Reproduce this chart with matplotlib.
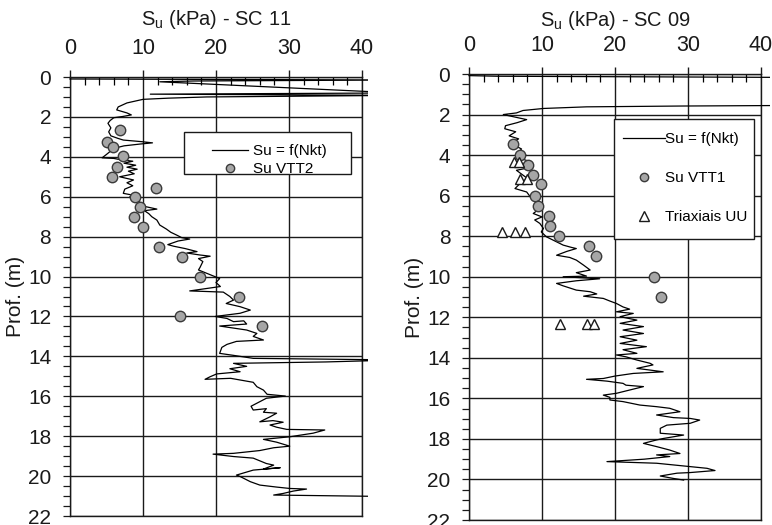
import matplotlib.pyplot as plt
from matplotlib.patches import Rectangle
from matplotlib.ticker import MultipleLocator

plt.rcParams['font.family'] = ['Liberation Sans', 'DejaVu Sans']
plt.rcParams['mathtext.fontset'] = 'custom'
plt.rcParams['mathtext.rm'] = 'Liberation Sans'

# SC 11 - Su = f(Nkt) (profundidade em m, Su em kPa); picos > 40 saem do grafico
prof_sc11 = [0.10, 0.15, 0.20, 0.24, 0.80, 0.86, 0.92, 1.00, 1.06, 1.12, 1.30, 1.50, 1.65, 1.80,
             1.90, 1.98, 2.04, 2.18, 2.32, 2.55, 2.75, 2.95, 3.08, 3.16, 3.24, 3.30, 3.36, 3.45,
             3.56, 3.70, 3.88, 4.05, 4.08, 4.15, 4.22, 4.32, 4.42, 4.52, 4.62, 4.72, 4.85, 5.00,
             5.16, 5.30, 5.45, 5.62, 5.83, 5.92, 6.00, 6.16, 6.33, 6.50, 6.62, 6.70, 6.85, 7.00,
             7.17, 7.42, 7.62, 7.78, 7.92, 8.05, 8.12, 8.22, 8.40, 8.48, 8.60, 8.75, 8.82, 8.92,
             8.98, 9.10, 9.25, 9.40, 9.55, 9.67, 9.82, 9.97, 10.10, 10.30, 10.50, 10.72, 10.78,
             11.00, 11.18, 11.35, 11.51, 11.68, 11.84, 12.00, 12.10, 12.26, 12.22, 12.38, 12.48,
             12.58, 12.68, 12.85, 13.00, 13.18, 13.25, 13.40, 13.55, 13.85, 13.95, 14.10, 14.18,
             14.28, 14.35, 14.50, 14.62, 14.77, 14.88, 15.02, 15.15, 15.10, 15.30, 15.52, 15.69,
             15.90, 15.99, 16.10, 16.35, 16.50, 16.69, 16.62, 16.80, 16.85, 17.03, 17.28, 17.22,
             17.30, 17.44, 17.55, 17.66, 17.69, 17.85, 18.03, 18.16, 18.30, 18.50, 18.58, 18.72,
             18.86, 18.90, 19.02, 19.10, 19.37, 19.45, 19.65, 19.58, 19.70, 19.95, 20.02, 20.28,
             20.45, 20.55, 20.62, 20.65, 20.75, 20.87, 20.95, 21.03, 21.08]
su_sc11 = [0.0, 45.0, 16.9, 12.3, 45.0, 11.0, 45.0, 18.7, 13.5, 10.0, 7.8, 6.6, 6.4, 7.8,
           8.4, 7.2, 6.0, 5.5, 5.2, 5.6, 5.3, 5.6, 6.6, 7.3, 9.8, 11.3, 9.6, 7.4,
           6.2, 5.6, 5.0, 4.4, 6.0, 7.0, 8.6, 7.4, 9.0, 7.8, 9.2, 8.0, 8.8, 6.8,
           8.7, 7.8, 8.6, 7.5, 7.3, 8.6, 8.2, 9.1, 9.8, 10.4, 11.9, 10.2, 10.8, 11.2,
           11.9, 12.3, 13.2, 13.8, 14.6, 15.3, 16.4, 14.8, 13.4, 14.2, 15.8, 17.4, 16.0, 17.8,
           19.2, 17.6, 18.2, 18.0, 17.8, 17.6, 18.6, 19.6, 20.5, 20.0, 20.6, 16.4, 21.0,
           21.9, 22.4, 21.4, 23.3, 24.7, 23.3, 19.9, 21.5, 22.4, 23.8, 24.2, 20.5,
           22.4, 24.2, 25.6, 25.1, 26.5, 22.8, 21.5, 20.8, 20.5, 22.4, 25.1, 45.0,
           35.0, 22.4, 24.2, 21.9, 23.3, 20.1, 19.2, 18.5, 22.0, 25.1, 25.6, 26.5,
           27.0, 29.5, 26.9, 25.6, 24.8, 25.1, 26.9, 26.5, 28.3, 27.4, 26.0, 27.8,
           29.2, 27.4, 28.3, 29.7, 34.9, 33.3, 30.1, 26.5, 28.3, 30.1, 27.9, 26.0,
           22.4, 19.6, 22.4, 25.1, 26.9, 27.9, 26.5, 28.8, 25.1, 22.8, 23.3, 24.7,
           26.0, 28.3, 30.1, 32.4, 30.6, 29.2, 27.9, 45.0, 45.0]

# SC 11 - Su VTT2
prof_vtt2 = [2.65, 3.25, 3.5, 3.95, 4.5, 5.0, 5.55, 6.0, 6.5, 7.0, 7.5, 8.5, 9.0, 10.0, 11.05, 12.0, 12.5]
su_vtt2 = [6.85, 5.0, 5.9, 7.3, 6.5, 5.7, 11.8, 8.9, 9.6, 8.7, 10.0, 12.2, 15.3, 17.8, 23.2, 15.1, 26.3]

# SC 09 - Su = f(Nkt)
prof_sc09 = [0.08, 0.11, 0.17, 1.55, 1.58, 1.62, 1.70, 1.80, 1.92, 2.00, 2.10, 2.25, 2.40, 2.55,
             2.70, 2.85, 3.05, 3.20, 3.40, 3.55, 3.70, 3.85, 4.00, 4.15, 4.30, 4.45, 4.60, 4.75,
             4.99, 5.15, 5.40, 5.65, 5.82, 6.06, 6.31, 6.50, 6.64, 6.88, 7.05, 7.20, 7.37, 7.62,
             7.79, 8.03, 8.28, 8.44, 8.55, 8.61, 8.75, 8.94, 9.05, 9.18, 9.43, 9.67, 9.80, 9.97,
             10.00, 10.10, 10.20, 10.33, 10.45, 10.66, 10.74, 10.85, 10.96, 11.07, 11.20, 11.32,
             11.49, 11.60, 11.73, 11.81, 11.97, 12.14, 12.30, 12.46, 12.63, 12.80, 12.96, 13.13,
             13.29, 13.45, 13.60, 13.78, 13.86, 13.95, 14.11, 14.27, 14.35, 14.52, 14.69, 14.77,
             14.90, 15.02, 15.06, 15.15, 15.26, 15.35, 15.42, 15.59, 15.75, 15.84, 15.95, 16.08,
             16.16, 16.33, 16.41, 16.49, 16.66, 16.82, 16.95, 16.99, 17.07, 17.23, 17.32, 17.48,
             17.72, 17.81, 17.98, 18.05, 18.22, 18.38, 18.55, 18.72, 18.79, 18.87, 19.00, 19.12,
             19.20, 19.37, 19.45, 19.56, 19.66, 19.69, 19.83, 19.95, 20.03]
su_sc09 = [0.0, 3.8, 45.0, 45.0, 29.0, 16.1, 10.2, 7.4, 6.5, 4.7, 6.0, 7.9, 6.6, 5.0,
           4.9, 6.4, 5.5, 6.8, 5.8, 6.4, 7.2, 6.8, 7.8, 6.9, 8.2, 7.3, 8.5, 6.5,
           7.4, 8.0, 7.0, 6.3, 7.9, 8.4, 9.3, 9.0, 9.7, 8.8, 10.0, 9.0, 9.7, 10.2,
           9.9, 10.6, 12.0, 12.9, 14.0, 14.7, 13.4, 12.0, 13.8, 14.7, 15.7, 16.6, 14.7, 16.1,
           12.9, 17.9, 14.7, 12.0, 12.9, 14.7, 16.6, 17.5, 15.7, 18.4, 19.3, 20.2,
           21.1, 22.0, 20.2, 22.5, 20.7, 23.0, 20.7, 23.9, 21.1, 23.9, 20.7, 23.0,
           20.7, 24.3, 21.1, 23.0, 20.2, 21.5, 23.0, 24.8, 25.2, 23.0, 26.6, 22.5,
           20.0, 18.4, 16.1, 18.9, 21.1, 21.5, 23.9, 22.0, 20.2, 18.4, 19.3, 19.3,
           21.1, 23.4, 25.7, 27.5, 28.9, 25.7, 28.0, 30.3, 31.6, 30.3, 27.1, 26.2,
           26.2, 29.4, 26.6, 25.7, 23.9, 25.7, 27.5, 28.9, 25.7, 27.5, 24.0, 18.9,
           25.7, 30.3, 32.6, 33.7, 30.3, 28.5, 26.2, 28.0, 29.4]

# SC 09 - Su VTT1
prof_vtt1 = [3.46, 4.0, 4.5, 5.0, 5.45, 6.0, 6.5, 7.0, 7.5, 8.0, 8.5, 9.0, 10.0, 11.0]
su_vtt1 = [6.0, 7.0, 8.1, 8.8, 9.9, 9.0, 9.5, 11.0, 11.1, 12.3, 16.5, 17.4, 25.3, 26.3]

# SC 09 - Triaxiais UU
prof_uu = [4.35, 4.35, 5.2, 5.2, 7.8, 7.8, 7.8, 12.33, 12.33, 12.33]
su_uu = [6.1, 6.9, 7.0, 8.0, 4.5, 6.3, 7.7, 12.5, 16.1, 17.1]


def style_axes(ax):
    ax.set_xlim(0, 40)
    ax.set_ylim(22, 0)
    ax.xaxis.tick_top()
    ax.set_xticks([0, 10, 20, 30, 40])
    ax.xaxis.set_minor_locator(MultipleLocator(2))
    ax.set_yticks(range(0, 23, 2))
    ax.yaxis.set_minor_locator(MultipleLocator(0.5))
    ax.tick_params(axis='x', which='major', direction='out', length=5, width=1,
                   pad=8, labelsize=15.5, colors='#1a1a1a')
    ax.tick_params(axis='x', which='minor', direction='in', length=6, width=0.9,
                   top=True, bottom=False)
    ax.tick_params(axis='y', which='both', direction='out', length=5, width=0.9,
                   pad=8.5, labelsize=15, colors='#1a1a1a')
    ax.grid(True, which='major', color='#1a1a1a', lw=1.0)
    ax.set_axisbelow(True)
    for s in ax.spines.values():
        s.set_linewidth(1.0)
        s.set_color('#1a1a1a')
    ax.set_ylabel('Prof. (m)', fontsize=15, color='#1a1a1a')


def clip_right(line, ax, xmax):
    # a curva passa um pouco alem do eixo da direita, como no original
    box = Rectangle((-0.01, -0.02), xmax + 0.01, 1.04, transform=ax.transAxes)
    line.set_clip_path(box)


fig = plt.figure(figsize=(7.72, 5.25), dpi=100)
ax1 = fig.add_axes([70 / 772, 1 - 516 / 525, 292 / 772, 439 / 525])
ax2 = fig.add_axes([469 / 772, 1 - 520 / 525, 292 / 772, 446 / 525])

# painel esquerdo - SC 11
style_axes(ax1)
ln1, = ax1.plot(su_sc11, prof_sc11, color='black', lw=0.9, zorder=3, label='Su = f(Nkt)')
clip_right(ln1, ax1, 1.0205)
ax1.plot(su_vtt2, prof_vtt2, 'o', ms=7.5, mfc='#a6a6a6', mec='#3a3a3a', mew=1, zorder=4,
         label='Su VTT2')
ax1.yaxis.set_label_coords(-0.155, 0.5)
ax1.add_patch(Rectangle((0.39, 0.778), 0.574, 0.0957, transform=ax1.transAxes,
                        fc='white', ec='#1a1a1a', lw=1, zorder=5))
leg1 = ax1.legend(frameon=False, loc='upper left', bbox_to_anchor=(0.485, 0.847),
                  borderpad=0, borderaxespad=0, fontsize=11, handlelength=2.4,
                  handletextpad=0.33, labelspacing=0.25)
leg1.legend_handles[1].set_markersize(6)
leg1.set_zorder(6)
fig.text(216 / 772, 1 - 25 / 525, r'S$_\mathregular{u}$ (kPa) - SC 11', ha='center',
         va='baseline', fontsize=14.5, color='#1a1a1a')

# painel direito - SC 09
style_axes(ax2)
ln2, = ax2.plot(su_sc09, prof_sc09, color='black', lw=0.9, zorder=3, label='Su = f(Nkt)')
clip_right(ln2, ax2, 1.031)
ax2.plot(su_vtt1, prof_vtt1, 'o', ms=7.5, mfc='#a6a6a6', mec='#3a3a3a', mew=1, zorder=4,
         label='Su VTT1')
ax2.plot(su_uu, prof_uu, '^', ms=6.5, mfc='white', mec='#1a1a1a', mew=1, zorder=4,
         label='Triaxiais UU')
ax2.yaxis.set_label_coords(-0.155, 0.5)
ax2.add_patch(Rectangle((0.497, 0.629), 0.479, 0.269, transform=ax2.transAxes,
                        fc='white', ec='#1a1a1a', lw=1, zorder=5))
leg2 = ax2.legend(frameon=False, loc='upper left', bbox_to_anchor=(0.528, 0.869),
                  borderpad=0, borderaxespad=0, fontsize=11, handlelength=2.75,
                  handletextpad=0.0, labelspacing=1.63)
leg2.legend_handles[1].set_markersize(6)
leg2.legend_handles[2].set_markersize(6.5)
leg2.set_zorder(6)
fig.text(615 / 772, 1 - 26 / 525, r'S$_\mathregular{u}$ (kPa) - SC 09', ha='center',
         va='baseline', fontsize=14.5, color='#1a1a1a')

fig.savefig('out.png', dpi=100)
